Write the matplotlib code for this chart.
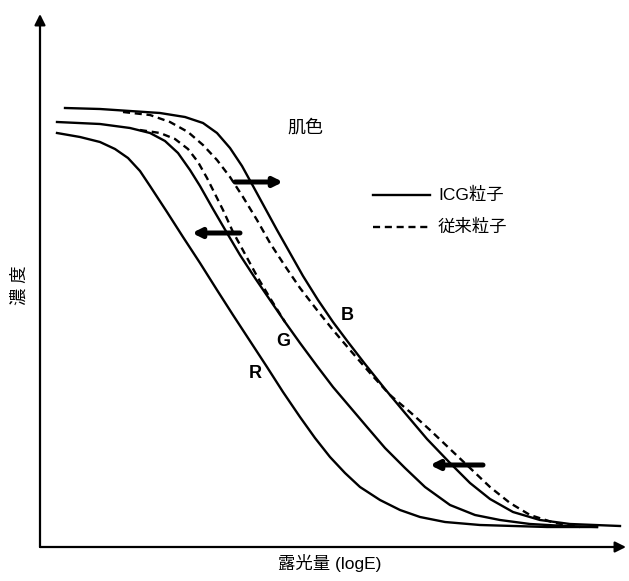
import matplotlib
matplotlib.use('Agg')
import matplotlib.pyplot as plt

plt.rcParams['font.family'] = ['Liberation Sans', 'Noto Sans CJK JP']

# characteristic curves, x = logE, y = density (arbitrary units)
b_new_x = [0.25, 0.60, 0.90, 1.20, 1.45, 1.63, 1.77, 1.90, 2.02, 2.13, 2.25, 2.37, 2.50, 2.63,
           2.78, 2.93, 3.08, 3.25, 3.45, 3.65, 3.87, 4.10, 4.30, 4.50, 4.73, 5.00, 5.30, 5.80]
b_new_y = [4.39, 4.38, 4.36, 4.34, 4.30, 4.24, 4.14, 3.99, 3.81, 3.61, 3.39, 3.17, 2.94, 2.71,
           2.47, 2.25, 2.05, 1.83, 1.58, 1.34, 1.08, 0.84, 0.64, 0.48, 0.35, 0.27, 0.23, 0.21]

b_old_x = [0.83, 1.10, 1.30, 1.48, 1.63, 1.77, 1.90, 2.03, 2.17, 2.30, 2.45, 2.60, 2.77, 2.93,
           3.10, 3.30, 3.50, 3.70, 3.90, 4.10, 4.30, 4.50, 4.70, 4.90, 5.15, 5.40]
b_old_y = [4.35, 4.32, 4.25, 4.15, 4.02, 3.87, 3.70, 3.50, 3.27, 3.04, 2.81, 2.59, 2.37, 2.17,
           1.97, 1.74, 1.52, 1.35, 1.17, 0.98, 0.79, 0.60, 0.44, 0.32, 0.24, 0.20]

g_new_x = [0.17, 0.60, 0.90, 1.10, 1.25, 1.38, 1.50, 1.60, 1.73, 1.87, 2.00, 2.15, 2.30, 2.45,
           2.60, 2.77, 2.93, 3.10, 3.27, 3.45, 3.65, 3.85, 4.10, 4.35, 4.60, 4.90, 5.25, 5.57]
g_new_y = [4.25, 4.23, 4.19, 4.14, 4.06, 3.94, 3.77, 3.61, 3.38, 3.14, 2.92, 2.69, 2.47, 2.25,
           2.04, 1.81, 1.60, 1.40, 1.20, 0.99, 0.79, 0.60, 0.42, 0.32, 0.27, 0.23, 0.21, 0.20]

g_old_x = [1.00, 1.20, 1.35, 1.48, 1.58, 1.67, 1.75, 1.83, 1.93, 2.05, 2.18, 2.30, 2.45]
g_old_y = [4.17, 4.14, 4.08, 3.98, 3.85, 3.69, 3.53, 3.37, 3.15, 2.93, 2.69, 2.49, 2.25]

r_x = [0.17, 0.40, 0.60, 0.75, 0.88, 1.00, 1.10, 1.27, 1.43, 1.60, 1.77, 1.93, 2.10, 2.27,
       2.43, 2.60, 2.75, 2.90, 3.05, 3.20, 3.40, 3.60, 3.80, 4.05, 4.40, 5.07, 5.57]
r_y = [4.14, 4.10, 4.05, 3.98, 3.89, 3.76, 3.61, 3.35, 3.10, 2.84, 2.57, 2.32, 2.06, 1.80,
       1.55, 1.30, 1.09, 0.90, 0.74, 0.60, 0.47, 0.37, 0.30, 0.25, 0.22, 0.20, 0.20]

# shift arrows: (tail, head)
shifts = [((1.95, 3.65), (2.43, 3.65)),
          ((2.00, 3.14), (1.52, 3.14)),
          ((4.43, 0.82), (3.90, 0.82))]

curve_labels = ['B', 'G', 'R']
label_pos = [(3.07, 2.31), (2.43, 2.05), (2.15, 1.73)]

fig = plt.figure(figsize=(6.29, 5.81), dpi=100)
ax = fig.add_axes([40 / 629, 34 / 581, 586 / 629, 533 / 581])
ax.set_xlim(0, 5.86)
ax.set_ylim(0, 5.33)
ax.axis('off')

lw = 1.7
dash = (0, (3, 2))
ax.plot(b_new_x, b_new_y, color='black', lw=lw, solid_joinstyle='round')
ax.plot(b_old_x, b_old_y, color='black', lw=lw, linestyle=dash)
ax.plot(g_new_x, g_new_y, color='black', lw=lw, solid_joinstyle='round')
ax.plot(g_old_x, g_old_y, color='black', lw=lw, linestyle=dash)
ax.plot(r_x, r_y, color='black', lw=lw, solid_joinstyle='round')

# axes with arrow heads
axis_style = dict(arrowstyle='-|>', lw=1.6, color='black', mutation_scale=16,
                  shrinkA=0, shrinkB=0)
ax.annotate('', xy=(5.86, 0), xytext=(0, 0), arrowprops=axis_style, annotation_clip=False)
ax.annotate('', xy=(0, 5.33), xytext=(0, 0), arrowprops=axis_style, annotation_clip=False)

for tail, head in shifts:
    ax.annotate('', xy=head, xytext=tail,
                arrowprops=dict(arrowstyle='-|>', lw=3.6, color='black',
                                mutation_scale=13, shrinkA=0, shrinkB=0))

for name, (lx, ly) in zip(curve_labels, label_pos):
    ax.text(lx, ly, name, fontsize=13, fontweight='bold', ha='center', va='center')

ax.text(2.65, 4.19, '肌色', fontsize=13, ha='center', va='center')

# legend drawn by hand
ax.plot([3.33, 3.90], [3.52, 3.52], color='black', lw=lw)
ax.plot([3.33, 3.90], [3.20, 3.20], color='black', lw=lw, linestyle=dash)
ax.text(3.98, 3.52, 'ICG粒子', fontsize=12.5, va='center')
ax.text(3.98, 3.20, '従来粒子', fontsize=12.5, va='center')

fig.text(330 / 629, 1 - 563 / 581, '露光量 (logE)', fontsize=12.5, ha='center', va='center')
fig.text(20 / 629, 1 - 285 / 581, '濃 度', fontsize=12.5, rotation=90, ha='center', va='center')

fig.savefig('out.png', dpi=100)
